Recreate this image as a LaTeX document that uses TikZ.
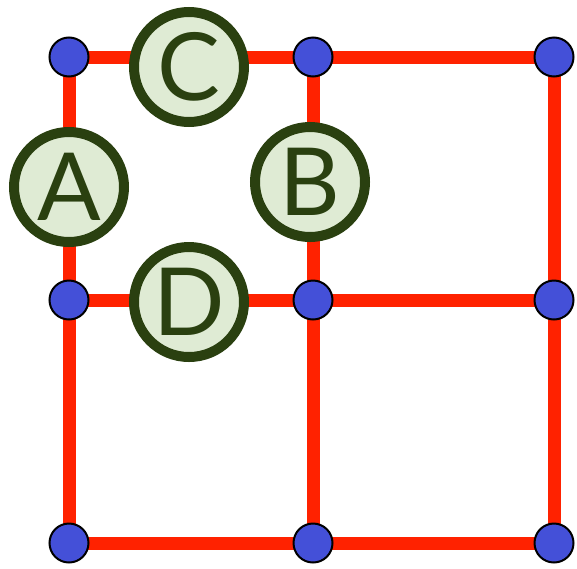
\documentclass[tikz,border=0pt]{standalone}
\usepackage{fontspec}
\setmainfont{Lato}
\usetikzlibrary{backgrounds}
\definecolor{edgered}{HTML}{FF2200}
\definecolor{dotblue}{HTML}{4450D8}
\definecolor{ringgreen}{HTML}{2A4010}
\definecolor{fillgreen}{HTML}{DFEBD4}
\tikzset{
  vertex/.style={circle, draw=black, line width=2pt, fill=dotblue, minimum size=39pt, inner sep=0pt},
  edge/.style={edgered, line width=13pt},
  label/.style={circle, draw=ringgreen, line width=10pt, fill=fillgreen, minimum size=110pt, inner sep=0pt,
    text=ringgreen, font=\fontsize{94}{94}\selectfont}
}
\begin{document}
\begin{tikzpicture}[x=1pt, y=-1pt]
  \useasboundingbox (0,0) rectangle (577,568);
  % grid vertices
  \node[vertex] (v11) at (69,57) {};
  \node[vertex] (v12) at (313,57) {};
  \node[vertex] (v13) at (554,57) {};
  \node[vertex] (v21) at (69,300) {};
  \node[vertex] (v22) at (313,300) {};
  \node[vertex] (v23) at (554,300) {};
  \node[vertex] (v31) at (69,543) {};
  \node[vertex] (v32) at (313,543) {};
  \node[vertex] (v33) at (554,543) {};
  % grid edges, kept underneath the vertices
  \begin{scope}[on background layer]
    \draw[edge] (v11.center) -- (v12.center) -- (v13.center);
    \draw[edge] (v21.center) -- (v22.center) -- (v23.center);
    \draw[edge] (v31.center) -- (v32.center) -- (v33.center);
    \draw[edge] (v11.center) -- (v21.center) -- (v31.center);
    \draw[edge] (v12.center) -- (v22.center) -- (v32.center);
    \draw[edge] (v13.center) -- (v23.center) -- (v33.center);
  \end{scope}
  % labelled discs on the edges
  \node[label] (A) at (69,187) {A};
  \node[label] (B) at (310,182) {B};
  \node[label] (C) at (189,67) {C};
  \node[label] (D) at (189,302) {D};
\end{tikzpicture}
\end{document}
